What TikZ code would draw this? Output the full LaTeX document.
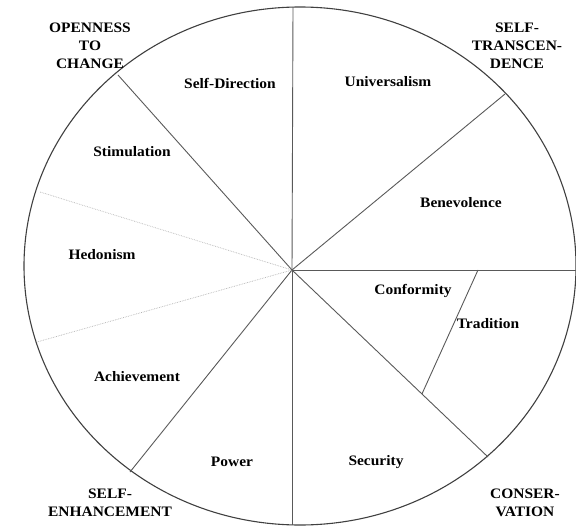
\documentclass[tikz,border=0pt]{standalone}
\usepackage{fontspec}
\setmainfont{Liberation Serif}[FakeStretch=1.07]
\usepackage{tikz}
\usetikzlibrary{calc}

\begin{document}
\begin{tikzpicture}[x=1bp,y=-1bp]
\tikzstyle{every node}+=[inner sep=0pt, font=\fontsize{14.5}{18}\selectfont\bfseries, align=center]
\tikzstyle{spoke}=[draw=black!65, line width=0.9bp]
\tikzstyle{faint}=[draw=black!30, line width=0.7bp, densely dotted]
\useasboundingbox (0,0) rectangle (576,526);
% outer ring
\draw [black!75, line width=1.1bp] (300,266) ellipse [x radius=276, y radius=259];
\coordinate (O) at (292,270);
% spokes
\draw [spoke] (O) -- (293,7);
\draw [spoke] (O) -- (505,94);
\draw [spoke] (O) -- (576,270);
\draw [spoke] (O) -- (488,457);
\draw [spoke] (O) -- (292,525);
\draw [spoke] (O) -- (130,472);
\draw [faint] (O) -- (37,342);
\draw [faint] (O) -- (40,192);
\draw [spoke] (O) -- (118,75);
\coordinate (trad-a) at (478,270);
\coordinate (trad-b) at ($(O)!0.663!(488,457)$);
\draw [spoke] (trad-a) -- (trad-b);
% values
\draw (230,83) node {Self-Direction};
\draw (388,82) node {Universalism};
\draw (461,203) node {Benevolence};
\draw (413,291) node {Conformity};
\draw (488,324) node {Tradition};
\draw (376,462) node {Security};
\draw (232,462) node {Power};
\draw (137,377) node {Achievement};
\draw (102,255) node {Hedonism};
\draw (132,152) node {Stimulation};
% higher order types
\draw (90,46) node {OPENNESS\\TO\\CHANGE};
\draw (517,46) node {SELF-\\TRANSCEN-\\DENCE};
\draw (525,503) node {CONSER-\\VATION};
\draw (110,503) node {SELF-\\ENHANCEMENT};
\end{tikzpicture}
\end{document}
